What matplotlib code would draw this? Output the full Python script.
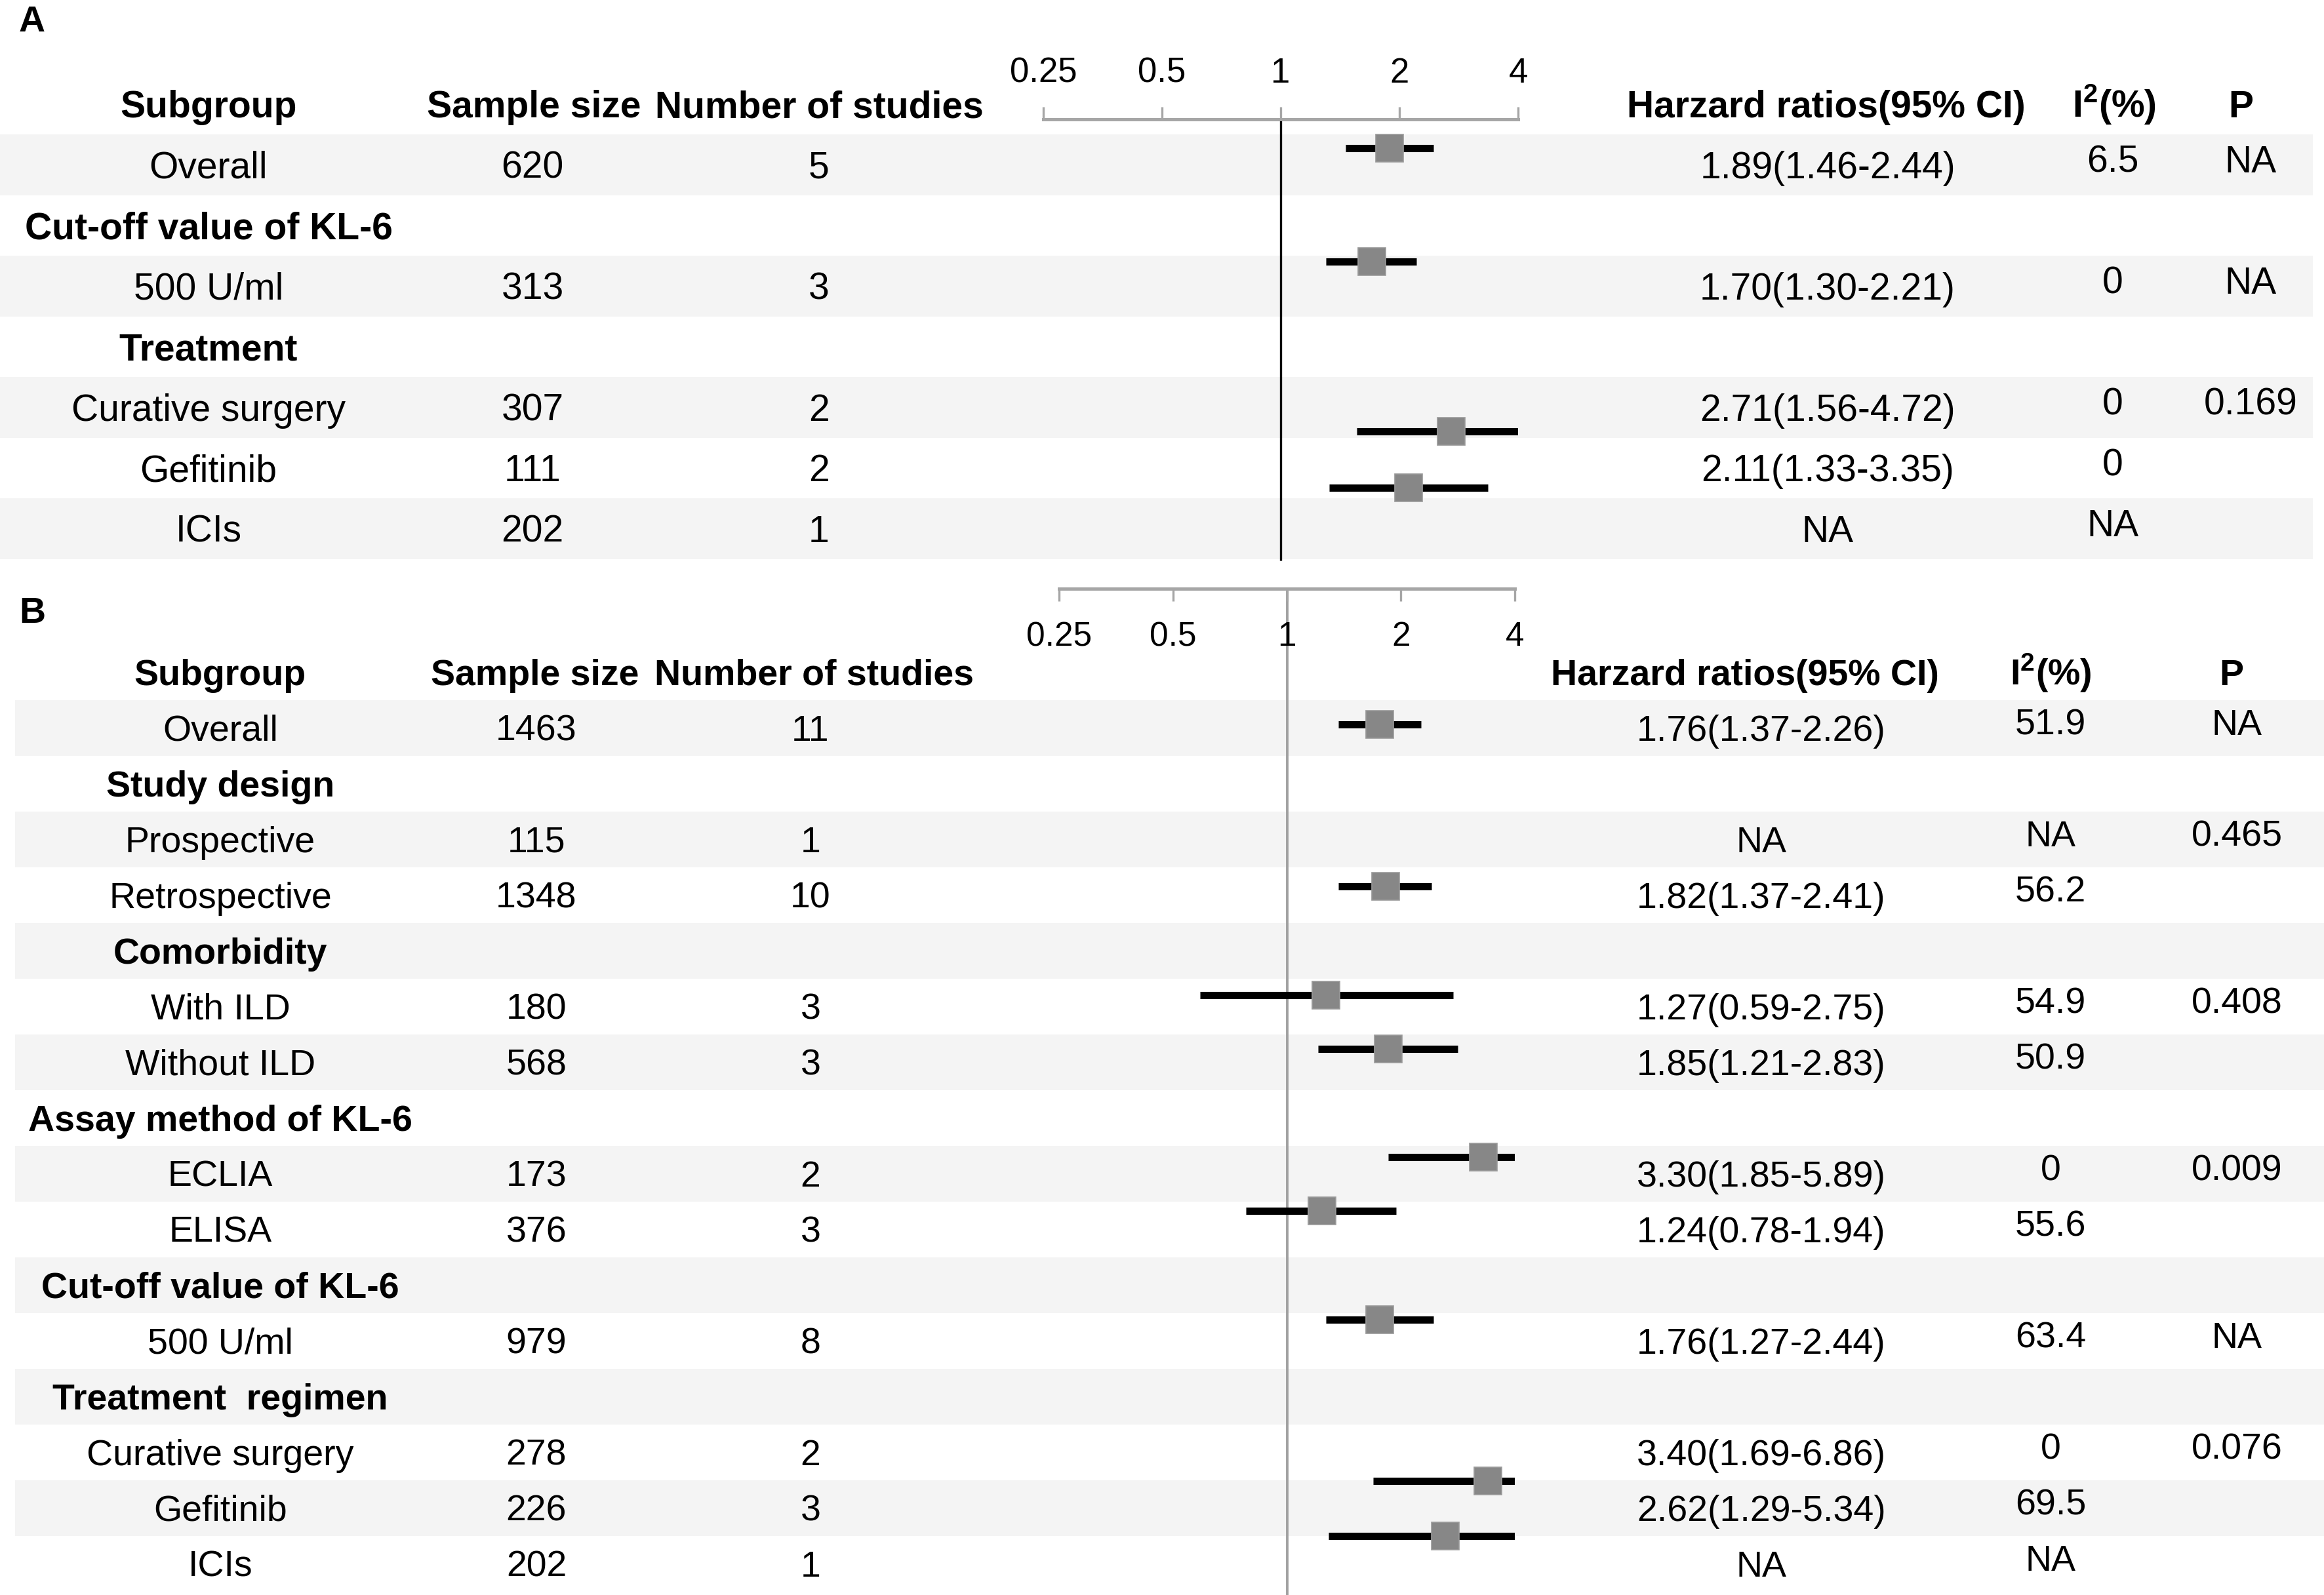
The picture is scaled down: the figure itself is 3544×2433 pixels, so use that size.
import numpy as np
import matplotlib
matplotlib.use('Agg')
import matplotlib.pyplot as plt
from matplotlib.ticker import NullLocator

plt.rcParams['font.family'] = ['Liberation Sans', 'DejaVu Sans']
plt.rcParams['mathtext.fontset'] = 'custom'
plt.rcParams['mathtext.rm'] = 'Liberation Sans'
plt.rcParams['mathtext.bf'] = 'Liberation Sans:bold'

NA = np.nan

# ---- panel A data ----
a_subgroup = ['Overall', 'Cut-off value of KL-6', '500 U/ml', 'Treatment',
              'Curative surgery', 'Gefitinib', 'ICIs']
a_is_cat = [False, True, False, True, False, False, False]
a_sample = ['620', '', '313', '', '307', '111', '202']
a_studies = ['5', '', '3', '', '2', '2', '1']
a_hr = [1.89, NA, 1.70, NA, 2.71, 2.11, NA]
a_lo = [1.46, NA, 1.30, NA, 1.56, 1.33, NA]
a_hi = [2.44, NA, 2.21, NA, 4.72, 3.35, NA]
a_i2 = ['6.5', '', '0', '', '0', '0', 'NA']
a_p = ['NA', '', 'NA', '', '0.169', '', '']

# ---- panel B data ----
b_subgroup = ['Overall', 'Study design', 'Prospective', 'Retrospective',
              'Comorbidity', 'With ILD', 'Without ILD', 'Assay method of KL-6',
              'ECLIA', 'ELISA', 'Cut-off value of KL-6', '500 U/ml',
              'Treatment  regimen', 'Curative surgery', 'Gefitinib', 'ICIs']
b_is_cat = [False, True, False, False, True, False, False, True,
            False, False, True, False, True, False, False, False]
b_sample = ['1463', '', '115', '1348', '', '180', '568', '', '173', '376',
            '', '979', '', '278', '226', '202']
b_studies = ['11', '', '1', '10', '', '3', '3', '', '2', '3', '', '8', '',
             '2', '3', '1']
b_hr = [1.76, NA, NA, 1.82, NA, 1.27, 1.85, NA, 3.30, 1.24, NA, 1.76, NA,
        3.40, 2.62, NA]
b_lo = [1.37, NA, NA, 1.37, NA, 0.59, 1.21, NA, 1.85, 0.78, NA, 1.27, NA,
        1.69, 1.29, NA]
b_hi = [2.26, NA, NA, 2.41, NA, 2.75, 2.83, NA, 5.89, 1.94, NA, 2.44, NA,
        6.86, 5.34, NA]
b_i2 = ['51.9', '', 'NA', '56.2', '', '54.9', '50.9', '', '0', '55.6', '',
        '63.4', '', '0', '69.5', 'NA']
b_p = ['NA', '', '0.465', '', '', '0.408', '', '', '0.009', '', '', 'NA', '',
       '0.076', '', '']

headers = ['Subgroup', 'Sample size', 'Number of studies',
           'Harzard ratios(95% CI)', r'I$^{\mathbf{2}}$(%)', 'P']
tick_vals = [0.25, 0.5, 1, 2, 4]
tick_labels = ['0.25', '0.5', '1', '2', '4']

# ---- layout (pixels of the 3544x2433 canvas) ----
W, H, DPI = 3544, 2433, 200
STRIPE = '#f4f4f4'
AXIS_GRAY = '#a6a6a6'
MARKER = '#878787'

lay_a = dict(letter='A', letter_xy=(49, 48), y0=251.5, row_h=92.5,
             stripe_x=0, stripe_w=3527, size=20.5, tick_size=19,
             col_x=[318, 812, 1249, 2787, 3222, 3432],
             head_x=[318, 814, 1249, 2785, 3224, 3417],
             ax_x=(1591, 2315), ax_y=(0, 880), spine='top', axis_y=182,
             tick_pad=9.5, ref=(182, 855), ref_color='black', ref_lw=1.2,
             shift=[-26, 0, -38, 0, 36.5, 29.5, 0])
lay_b = dict(letter='B', letter_xy=(49, 950), y0=1110, row_h=85,
             stripe_x=23, stripe_w=3521, size=20, tick_size=18.5,
             col_x=[336, 818, 1236, 2686, 3127, 3411],
             head_x=[335, 816, 1242, 2661, 3127, 3403],
             ax_x=(1615, 2310), ax_y=(880, 2433), spine='bottom', axis_y=898,
             tick_pad=11, ref=(898, 2433), ref_color='#a0a0a0', ref_lw=1.4,
             shift=[-5, 0, 0, -13, 0, -17, -20, 0, -25, -28, 0, -32, 0, 44, 43, 0])


def hr_text(hr, lo, hi, cat):
    if cat:
        return ''
    if np.isnan(hr):
        return 'NA'
    return f'{hr:.2f}({lo:.2f}-{hi:.2f})'


def draw_panel(fig, bg, subgroup, is_cat, sample, studies, hr, lo, hi, i2, p, lay):
    n = len(subgroup)
    yc = lay['y0'] + np.arange(n) * lay['row_h']
    cap = 0.358 * lay['size'] * DPI / 72  # half cap height in px

    # zebra stripes
    bg.barh(yc[::2], lay['stripe_w'], height=lay['row_h'], left=lay['stripe_x'],
            color=STRIPE, zorder=0)

    # panel letter
    bg.text(lay['letter_xy'][0], lay['letter_xy'][1], lay['letter'], ha='center',
            va='baseline', fontsize=20, fontweight='bold')

    # header row
    yh = lay['y0'] - lay['row_h'] + cap
    for x, s in zip(lay['head_x'], headers):
        bg.text(x, yh, s, ha='center', va='baseline', fontsize=lay['size'],
                fontweight='bold')

    # table body
    cx = lay['col_x']
    for i in range(n):
        yb = yc[i] + cap
        w = 'bold' if is_cat[i] else 'normal'
        bg.text(cx[0], yb, subgroup[i], ha='center', va='baseline',
                fontsize=lay['size'], fontweight=w)
        bg.text(cx[1], yb, sample[i], ha='center', va='baseline', fontsize=lay['size'])
        bg.text(cx[2], yb, studies[i], ha='center', va='baseline', fontsize=lay['size'])
        bg.text(cx[3], yb, hr_text(hr[i], lo[i], hi[i], is_cat[i]), ha='center',
                va='baseline', fontsize=lay['size'])
        bg.text(cx[4], yb - 9, i2[i], ha='center', va='baseline', fontsize=lay['size'])
        bg.text(cx[5], yb - 9, p[i], ha='center', va='baseline', fontsize=lay['size'])

    # forest axes
    x0, x1 = lay['ax_x']
    y0, y1 = lay['ax_y']
    ax = fig.add_axes([x0 / W, 1 - y1 / H, (x1 - x0) / W, (y1 - y0) / H])
    ax.set_xscale('log', base=2)
    ax.set_xlim(0.25, 4)
    ax.set_ylim(y1, y0)
    ax.patch.set_visible(False)
    for s in ax.spines.values():
        s.set_visible(False)
    sp = ax.spines[lay['spine']]
    sp.set_visible(True)
    sp.set_position(('data', lay['axis_y']))
    sp.set_color(AXIS_GRAY)
    sp.set_linewidth(1.8)
    if lay['spine'] == 'top':
        ax.xaxis.tick_top()
    else:
        ax.xaxis.tick_bottom()
    ax.set_xticks(tick_vals, tick_labels)
    ax.xaxis.set_minor_locator(NullLocator())
    ax.tick_params(axis='x', which='major', direction='out', length=6.8, width=1.2,
                   color=AXIS_GRAY, labelsize=lay['tick_size'], pad=lay['tick_pad'])
    ax.set_yticks([])

    ax.vlines(1, lay['ref'][0], lay['ref'][1], color=lay['ref_color'],
              lw=lay['ref_lw'], zorder=1)

    hr = np.array(hr)
    lo = np.array(lo)
    hi = np.array(hi)
    ok = ~np.isnan(hr)
    ym = yc + np.array(lay['shift'])
    ax.hlines(ym[ok], lo[ok], hi[ok], color='black', lw=4, zorder=2)
    ax.plot(hr[ok], ym[ok], 's', ms=15, color=MARKER, mec='#9a9a9a', mew=0.6,
            zorder=3)
    return ax


fig = plt.figure(figsize=(W / DPI, H / DPI), dpi=DPI)
bg = fig.add_axes([0, 0, 1, 1])
bg.set_xlim(0, W)
bg.set_ylim(H, 0)
bg.axis('off')

draw_panel(fig, bg, a_subgroup, a_is_cat, a_sample, a_studies, a_hr, a_lo, a_hi,
           a_i2, a_p, lay_a)
draw_panel(fig, bg, b_subgroup, b_is_cat, b_sample, b_studies, b_hr, b_lo, b_hi,
           b_i2, b_p, lay_b)

fig.savefig('out.png', dpi=DPI)
